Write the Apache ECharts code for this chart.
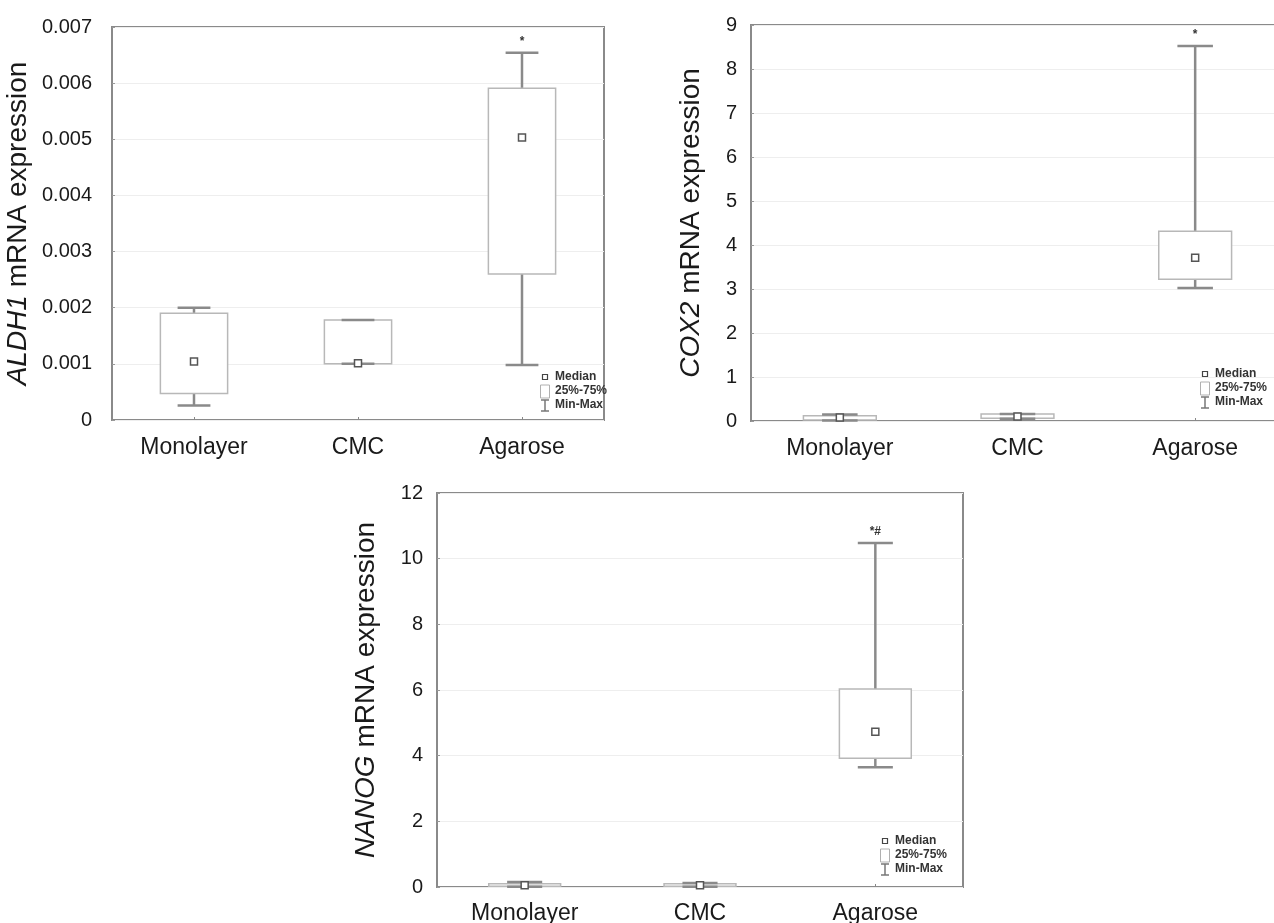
<!DOCTYPE html>
<html>
<head>
<meta charset="utf-8">
<script src="https://cdn.jsdelivr.net/npm/echarts@6/dist/echarts.min.js"></script>
<style>
html, body { margin: 0; padding: 0; background: #fff; }
#main { width: 1274px; height: 923px; }
</style>
</head>
<body>
<div id="main"></div>
<script>
// groups on the x axis
var groups = ['Monolayer', 'CMC', 'Agarose'];

// each box: [min, Q1, median, Q3, max]
var aldh1Box = [
    [0.00026, 0.00047, 0.00104, 0.0019, 0.0020],
    [0.0010, 0.0010, 0.00101, 0.00178, 0.00178],
    [0.00098, 0.0026, 0.00503, 0.00591, 0.00654]
];
var cox2Box = [
    [0.01, 0.02, 0.08, 0.12, 0.15],
    [0.05, 0.06, 0.10, 0.16, 0.16],
    [3.02, 3.22, 3.71, 4.31, 8.52]
];
var nanogBox = [
    [0.01, 0.02, 0.05, 0.10, 0.15],
    [0.01, 0.02, 0.05, 0.10, 0.12],
    [3.65, 3.92, 4.73, 6.03, 10.48]
];

// significance marks above the whiskers
var aldh1Sig = ['', '', '*'];
var cox2Sig = ['', '', '*'];
var nanogSig = ['', '', '*#'];

// y axis ranges [min, max, step]
var aldh1Axis = [0, 0.007, 0.001];
var cox2Axis = [0, 9, 1];
var nanogAxis = [0, 12, 2];

var FONT = '"Liberation Sans", Arial, sans-serif';

var myChart = echarts.init(document.getElementById('main'));

function makeRender(sig) {
    return function (params, api) {
        var x = api.value(0);
        var lo = api.coord([x, api.value(1)]);
        var q1 = api.coord([x, api.value(2)]);
        var med = api.coord([x, api.value(3)]);
        var q3 = api.coord([x, api.value(4)]);
        var hi = api.coord([x, api.value(5)]);
        var band = api.size([1, 0])[0];
        var bw = band * 0.41, cw = band * 0.2;
        var cx = lo[0];
        var wStyle = { stroke: '#8a8a8a', lineWidth: 2.5 };
        return {
            type: 'group',
            children: [
                { type: 'line', shape: { x1: cx, y1: hi[1], x2: cx, y2: q3[1] }, style: wStyle },
                { type: 'line', shape: { x1: cx, y1: q1[1], x2: cx, y2: lo[1] }, style: wStyle },
                { type: 'rect', shape: { x: cx - bw / 2, y: q3[1], width: bw, height: q1[1] - q3[1] },
                  style: { fill: '#fff', stroke: '#b8b8b8', lineWidth: 1.5 } },
                { type: 'line', shape: { x1: cx - cw / 2, y1: hi[1], x2: cx + cw / 2, y2: hi[1] }, style: wStyle },
                { type: 'line', shape: { x1: cx - cw / 2, y1: lo[1], x2: cx + cw / 2, y2: lo[1] }, style: wStyle },
                { type: 'rect', shape: { x: cx - 3.5, y: med[1] - 3.5, width: 7, height: 7 },
                  style: { fill: '#fff', stroke: '#555', lineWidth: 1.5 } },
                { type: 'text', style: { text: sig[params.dataIndex], x: cx, y: hi[1] - 5,
                  align: 'center', verticalAlign: 'bottom', font: 'bold 12px ' + FONT, fill: '#333' } }
            ]
        };
    };
}

function toData(box) {
    return box.map(function (d, i) { return [i].concat(d); });
}

function xAxisFor(idx, margin) {
    return {
        type: 'category', gridIndex: idx, data: groups, boundaryGap: true,
        axisLine: { show: false },
        axisTick: { show: true, inside: true, alignWithLabel: true, length: 3, lineStyle: { color: '#888' } },
        axisLabel: { color: '#1a1a1a', fontSize: 23, fontFamily: FONT, margin: margin },
        splitLine: { show: false }
    };
}

function yAxisFor(idx, range, name, gap, margin, digits) {
    return {
        type: 'value', gridIndex: idx, min: range[0], max: range[1], interval: range[2],
        name: name, nameLocation: 'middle', nameGap: gap,
        nameTextStyle: { color: '#1a1a1a', fontSize: 28, fontFamily: FONT,
            rich: { i: { fontStyle: 'italic', fontSize: 28, fontFamily: FONT, color: '#1a1a1a' } } },
        axisLine: { show: false },
        axisTick: { show: true, inside: true, length: 3, lineStyle: { color: '#999' } },
        axisLabel: { color: '#1a1a1a', fontSize: 20, fontFamily: FONT, margin: margin,
            formatter: function (v) { return v === 0 ? '0' : v.toFixed(digits); } },
        splitLine: { show: true, lineStyle: { color: '#eeeeee', width: 1 } }
    };
}

function legendAt(x, y) {
    var t = { font: 'bold 12px ' + FONT, fill: '#333', verticalAlign: 'middle' };
    var s = { stroke: '#777', lineWidth: 1.5 };
    return [
        { type: 'rect', shape: { x: x - 2.5, y: y - 2.5, width: 5, height: 5 }, style: { fill: '#fff', stroke: '#444', lineWidth: 1.2 } },
        { type: 'text', x: x + 10, y: y, style: Object.assign({ text: 'Median' }, t) },
        { type: 'rect', shape: { x: x - 4.5, y: y + 8, width: 9, height: 13 }, style: { fill: '#fff', stroke: '#b0b0b0', lineWidth: 1 } },
        { type: 'text', x: x + 10, y: y + 14, style: Object.assign({ text: '25%-75%' }, t) },
        { type: 'line', shape: { x1: x, y1: y + 23, x2: x, y2: y + 34 }, style: s },
        { type: 'line', shape: { x1: x - 4, y1: y + 23, x2: x + 4, y2: y + 23 }, style: s },
        { type: 'line', shape: { x1: x - 4, y1: y + 34, x2: x + 4, y2: y + 34 }, style: s },
        { type: 'text', x: x + 10, y: y + 28, style: Object.assign({ text: 'Min-Max' }, t) }
    ];
}

var gridStyle = { show: true, borderColor: '#8a8a8a', borderWidth: 2, backgroundColor: '#fff', outerBoundsMode: 'none' };

option = {
    backgroundColor: '#fff',
    animation: false,
    grid: [
        Object.assign({ left: 112, top: 27, width: 492, height: 393 }, gridStyle),
        Object.assign({ left: 751, top: 25, width: 533, height: 396 }, gridStyle),
        Object.assign({ left: 437, top: 493, width: 526, height: 394 }, gridStyle)
    ],
    xAxis: [xAxisFor(0, 16), xAxisFor(1, 16), xAxisFor(2, 15)],
    yAxis: [
        yAxisFor(0, aldh1Axis, '{i|ALDH1} mRNA expression', 80, 20, 3),
        yAxisFor(1, cox2Axis, '{i|COX2} mRNA expression', 46, 14, 0),
        yAxisFor(2, nanogAxis, '{i|NANOG} mRNA expression', 57, 14, 0)
    ],
    series: [
        { type: 'custom', xAxisIndex: 0, yAxisIndex: 0, renderItem: makeRender(aldh1Sig),
          encode: { x: 0, y: [1, 2, 3, 4, 5] }, data: toData(aldh1Box) },
        { type: 'custom', xAxisIndex: 1, yAxisIndex: 1, renderItem: makeRender(cox2Sig),
          encode: { x: 0, y: [1, 2, 3, 4, 5] }, data: toData(cox2Box) },
        { type: 'custom', xAxisIndex: 2, yAxisIndex: 2, renderItem: makeRender(nanogSig),
          encode: { x: 0, y: [1, 2, 3, 4, 5] }, data: toData(nanogBox) }
    ],
    graphic: [].concat(legendAt(545, 377), legendAt(1205, 374), legendAt(885, 841))
};

myChart.setOption(option);
</script>
</body>
</html>
